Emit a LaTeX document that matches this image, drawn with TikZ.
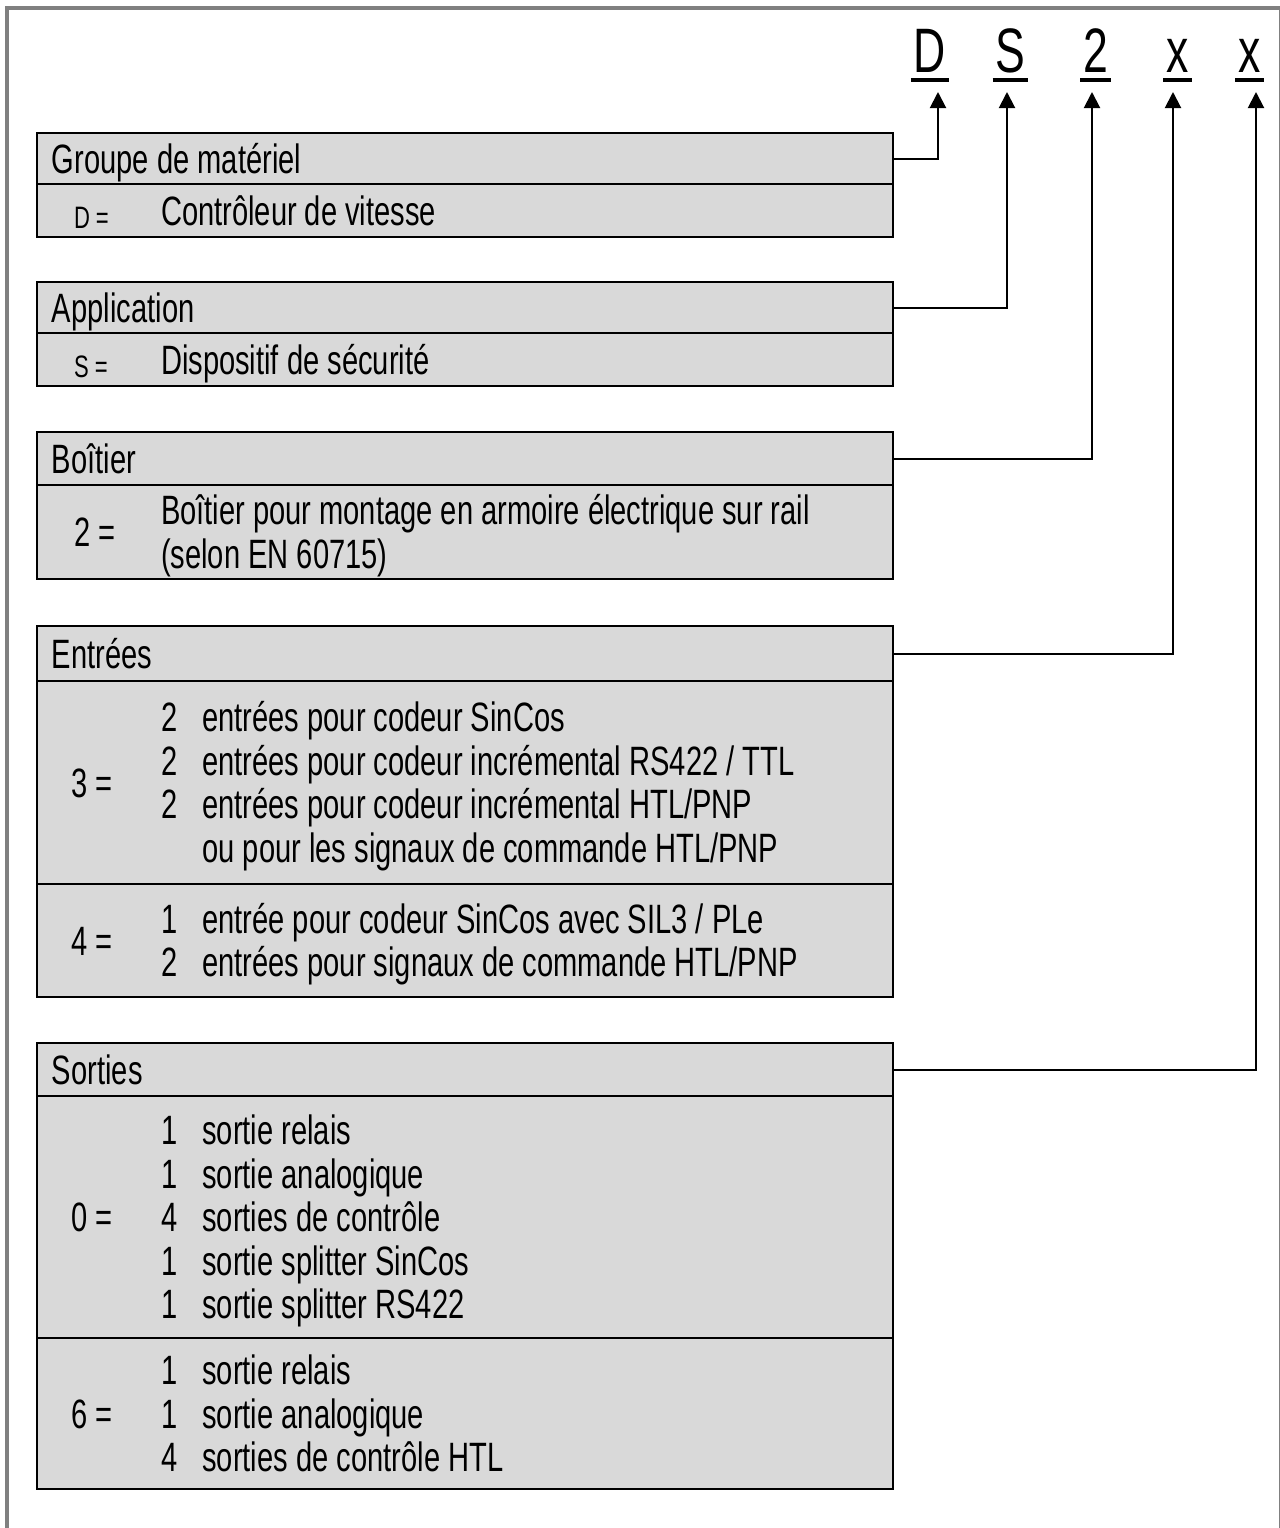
\documentclass[tikz,border=0pt]{standalone}
\usepackage{fontspec}
\setmainfont{Liberation Sans}[FakeStretch=0.71]
\usepackage{xcolor}
\usepackage{tikz}
\usetikzlibrary{arrows.meta}
\usetikzlibrary{calc}
\usetikzlibrary{positioning}

\definecolor{boxgray}{HTML}{D9D9D9}
\definecolor{framegray}{HTML}{808080}
\newcommand{\bodyfont}{\fontsize{20.5pt}{21.75pt}\selectfont}
\newcommand{\keyfont}{\fontsize{15.5pt}{16pt}\selectfont}
\newcommand{\codefont}{\fontsize{31.4pt}{32pt}\selectfont}
\newcommand{\lns}[1]{\begin{tabular}{@{}l@{}}#1\end{tabular}}
\newcommand{\lst}[1]{\begin{tabular}{@{}l@{\hspace{12.6pt}}l@{}}#1\end{tabular}}

\begin{document}
\begin{tikzpicture}[x=0.5pt,y=-0.5pt,>={Triangle[length=8pt,width=8pt]},line width=1pt]
  \tikzstyle{hdr}=[draw, fill=boxgray, rectangle, line width=1.1pt, outer sep=0pt, inner xsep=7.5pt, inner ysep=0pt,
                   text width=413pt, text height=14.7pt, text depth=0pt, anchor=north west, font=\bodyfont,
                   execute at begin node={\spaceskip=0pt\xspaceskip=0pt\relax}]
  \tikzstyle{row}=[draw, fill=boxgray, rectangle, line width=1.1pt, outer sep=0pt, inner sep=0pt, minimum width=428pt]
  \tikzstyle{txt}=[inner sep=0pt, font=\bodyfont, yshift=-3pt]
  \tikzstyle{smallkey}=[inner sep=0pt, font=\keyfont, text height=11.1pt, text depth=0pt, yshift=-3.5pt]
  \tikzstyle{code}=[inner xsep=1pt, inner ysep=0pt, font=\codefont, anchor=base]

  \useasboundingbox (0,0) rectangle (1280,1528);
  \draw[framegray, line width=2pt] (7,1540) -- (7,7.7) -- (1281,7.7) -- (1281,1540);

  % type code
  \node[code] (cD) at (930,72) {D};
  \node[code] (cS) at (1010.5,72) {S};
  \node[code] (c2) at (1095.5,72) {2};
  \node[code] (cX) at (1177.5,72) {x};
  \node[code] (cY) at (1249.5,72) {x};
  \foreach \c in {cD,cS,c2,cX,cY}
    \draw[line width=2pt] ([yshift=-4pt]\c.base west) -- ([yshift=-4pt]\c.base east);
  \coordinate (aD) at (938,92);
  \coordinate (aS) at (1007,92);
  \coordinate (a2) at (1092,92);
  \coordinate (aX) at (1173,92);
  \coordinate (aY) at (1256,92);

  % Groupe de materiel
  \node[hdr, minimum height=25.5pt] (hGrp) at (37,133) {Groupe de matériel};
  \node[row, minimum height=26.5pt, below=0pt of hGrp] (rGrp) {};
  \node[smallkey, right=18pt of rGrp.west] (kD) {D =};
  \node[txt, right=61.5pt of rGrp.west] (tD) {\lns{Contrôleur de vitesse}};

  % Application
  \node[hdr, minimum height=25.5pt] (hApp) at (37,282) {Application};
  \node[row, minimum height=26.5pt, below=0pt of hApp] (rApp) {};
  \node[smallkey, right=18pt of rApp.west] (kS) {S =};
  \node[txt, right=61.5pt of rApp.west] (tS) {\lns{Dispositif de sécurité}};

  % Boitier
  \node[hdr, minimum height=26.5pt] (hBox) at (37,432) {Boîtier};
  \node[row, minimum height=47pt, below=0pt of hBox] (rBox) {};
  \node[txt, right=18pt of rBox.west] (k2) {\lns{2 =}};
  \node[txt, right=61.5pt of rBox.west] (t2) {\lns{Boîtier pour montage en armoire électrique sur rail\\(selon EN 60715)}};

  % Entrees
  \node[hdr, minimum height=27.5pt] (hIn) at (37,626) {Entrées};
  \node[row, minimum height=101.5pt, below=0pt of hIn] (rIn3) {};
  \node[row, minimum height=56.5pt, below=0pt of rIn3] (rIn4) {};
  \node[txt, right=16.5pt of rIn3.west] (k3) {\lns{3 =}};
  \node[txt, right=61.5pt of rIn3.west] (t3) {\lst{2 & entrées pour codeur SinCos\\
    2 & entrées pour codeur incrémental RS422 / TTL\\
    2 & entrées pour codeur incrémental HTL/PNP\\
      & ou pour les signaux de commande HTL/PNP}};
  \node[txt, right=16.5pt of rIn4.west] (k4) {\lns{4 =}};
  \node[txt, right=61.5pt of rIn4.west] (t4) {\lst{1 & entrée pour codeur SinCos avec SIL3 / PLe\\
    2 & entrées pour signaux de commande HTL/PNP}};

  % Sorties
  \node[hdr, minimum height=26.5pt] (hOut) at (37,1043) {Sorties};
  \node[row, minimum height=121pt, below=0pt of hOut] (rOut0) {};
  \node[row, minimum height=75.5pt, below=0pt of rOut0] (rOut6) {};
  \node[txt, right=16.5pt of rOut0.west] (k0) {\lns{0 =}};
  \node[txt, right=61.5pt of rOut0.west] (t0) {\lst{1 & sortie relais\\
    1 & sortie analogique\\
    4 & sorties de contrôle\\
    1 & sortie splitter SinCos\\
    1 & sortie splitter RS422}};
  \node[txt, right=16.5pt of rOut6.west] (k6) {\lns{6 =}};
  \node[txt, right=61.5pt of rOut6.west] (t6) {\lst{1 & sortie relais\\
    1 & sortie analogique\\
    4 & sorties de contrôle HTL}};

  % connectors
  \draw[->] (hGrp.east) -| (aD);
  \draw[->] (hApp.east) -| (aS);
  \draw[->] (hBox.east) -| (a2);
  \draw[->] (hIn.east) -| (aX);
  \draw[->] (hOut.east) -| (aY);
\end{tikzpicture}
\end{document}
